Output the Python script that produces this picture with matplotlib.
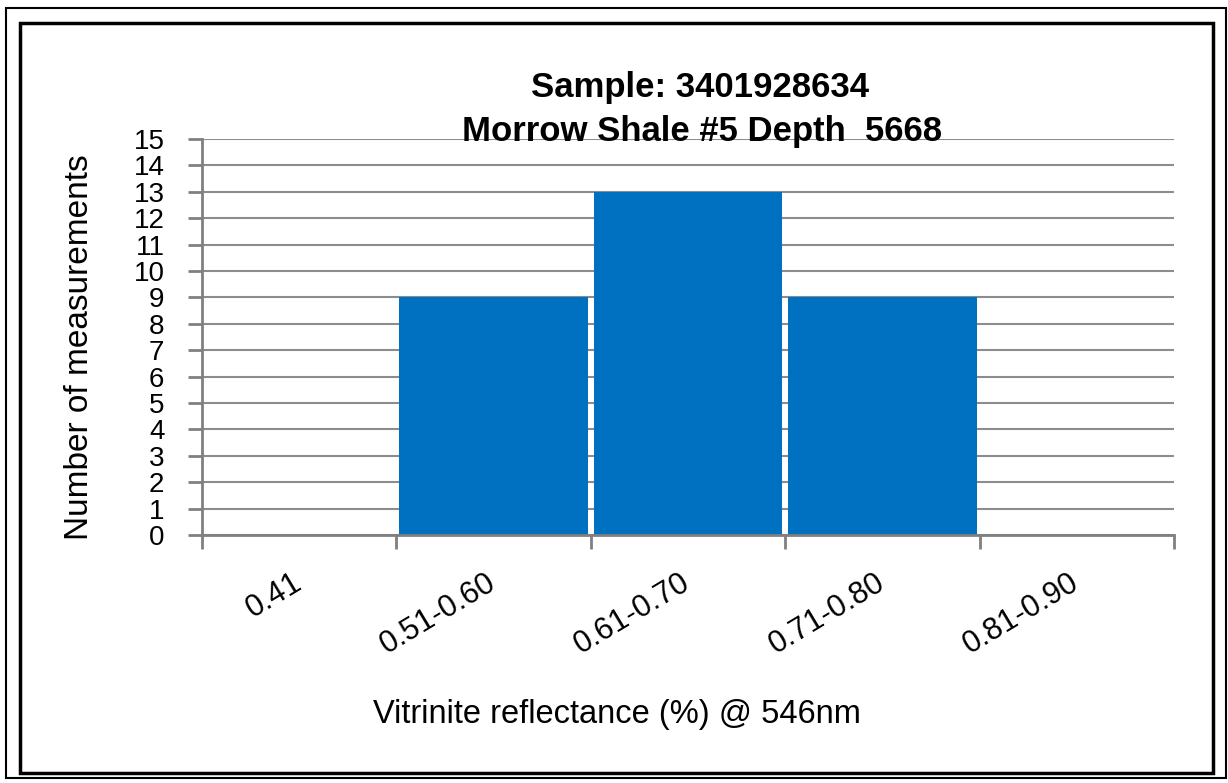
import matplotlib.pyplot as plt
from matplotlib.patches import Rectangle

# data
categories = ['0.41', '0.51-0.60', '0.61-0.70', '0.71-0.80', '0.81-0.90']
counts = [0, 9, 13, 9, 0]
y_ticks = list(range(0, 16))

plt.rcParams['font.family'] = ['Liberation Sans', 'DejaVu Sans']

fig = plt.figure(figsize=(12.28, 7.83), dpi=100)
W, H = 1228, 783

# two frames around the chart
fig.patches.append(Rectangle((6 / W, 1 - 778 / H), 1220 / W, 770 / H,
                             transform=fig.transFigure, fill=False,
                             edgecolor='black', linewidth=1.5))
fig.patches.append(Rectangle((20 / W, 1 - 773 / H), 1193 / W, 750 / H,
                             transform=fig.transFigure, fill=False,
                             edgecolor='black', linewidth=2.5))

ax = fig.add_axes([202 / W, 1 - 535 / H, 972 / W, 396 / H])
x = list(range(len(categories)))
ax.bar(x, counts, width=0.97, color='#0070C0', zorder=3)

ax.set_xlim(-0.5, len(categories) - 0.5)
ax.set_ylim(0, 15)
ax.set_yticks(y_ticks)
ax.set_yticklabels([str(v) for v in y_ticks], fontsize=20)
ax.yaxis.grid(True, color='#8c8c8c', linewidth=1.5, zorder=0)

# category ticks sit on the boundaries, labels at the centres
ax.set_xticks([i - 0.5 for i in range(len(categories) + 1)])
ax.set_xticklabels([])
ax.set_xticks(x, minor=True)
ax.set_xticklabels(categories, minor=True, rotation=31, ha='right',
                   va='center', rotation_mode='anchor', fontsize=22)
ax.tick_params(axis='x', which='minor', length=0, pad=33)
ax.tick_params(axis='x', which='major', length=10, width=2, color='#808080')
ax.tick_params(axis='y', length=10, width=2, color='#808080', pad=17)

for side in ['top', 'right']:
    ax.spines[side].set_visible(False)
for side in ['left', 'bottom']:
    ax.spines[side].set_color('#808080')
    ax.spines[side].set_linewidth(2)
    ax.spines[side].set_zorder(4)

fig.text(700 / W, 1 - 87 / H, 'Sample: 3401928634', ha='center', va='center',
         fontsize=25, fontweight='bold')
fig.text(702 / W, 1 - 131 / H, 'Morrow Shale #5 Depth  5668', ha='center',
         va='center', fontsize=25, fontweight='bold')

fig.text(617 / W, 1 - 715 / H, 'Vitrinite reflectance (%) @ 546nm',
         ha='center', va='center', fontsize=23.5)
fig.text(80 / W, 1 - 347 / H, 'Number of measurements', ha='center',
         va='center', rotation=90, fontsize=24)

fig.savefig('out.png', dpi=100)
